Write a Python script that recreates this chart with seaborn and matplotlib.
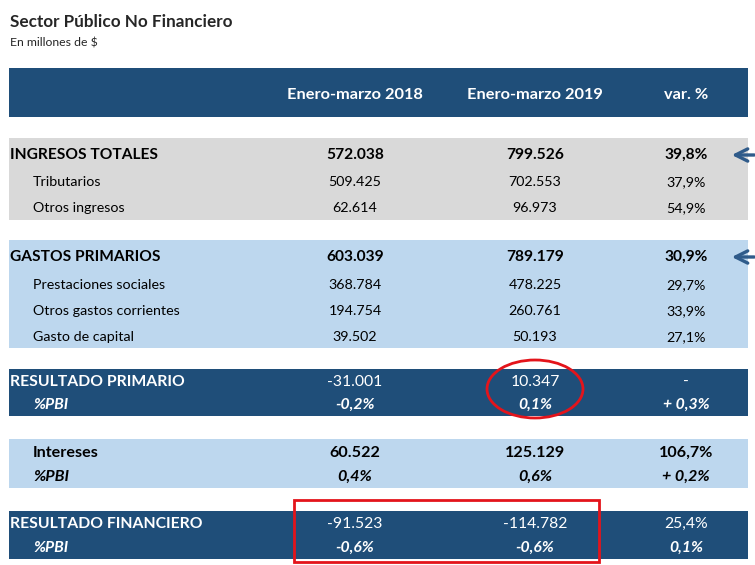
import matplotlib.pyplot as plt
import seaborn as sns
from matplotlib.patches import Rectangle, Ellipse

# table content
labels = ["INGRESOS TOTALES", "Tributarios", "Otros ingresos",
          "GASTOS PRIMARIOS", "Prestaciones sociales", "Otros gastos corrientes", "Gasto de capital",
          "RESULTADO PRIMARIO", "%PBI",
          "Intereses", "%PBI",
          "RESULTADO FINANCIERO", "%PBI"]
v2018 = ["572.038", "509.425", "62.614",
         "603.039", "368.784", "194.754", "39.502",
         "-31.001", "-0,2%",
         "60.522", "0,4%",
         "-91.523", "-0,6%"]
v2019 = ["799.526", "702.553", "96.973",
         "789.179", "478.225", "260.761", "50.193",
         "10.347", "0,1%",
         "125.129", "0,6%",
         "-114.782", "-0,6%"]
var_pct = ["39,8%", "37,9%", "54,9%",
           "30,9%", "29,7%", "33,9%", "27,1%",
           "-", "+ 0,3%",
           "106,7%", "+ 0,2%",
           "25,4%", "0,1%"]
headers = ["Enero-marzo 2018", "Enero-marzo 2019", "var. %"]

# layout (pixels, figure coordinates)
row_y = [155, 182, 208, 257, 285, 311, 337, 382, 405, 453, 477, 524, 548]
# style: (label x, weight, style, size, color, value weight)
styles = [
    (10, "bold", "normal", 11.2, "black", "bold"),
    (33, "normal", "normal", 10.3, "black", "normal"),
    (33, "normal", "normal", 10.3, "black", "normal"),
    (10, "bold", "normal", 11.2, "black", "bold"),
    (33, "normal", "normal", 10.3, "black", "normal"),
    (33, "normal", "normal", 10.3, "black", "normal"),
    (33, "normal", "normal", 10.3, "black", "normal"),
    (10, "bold", "normal", 11.3, "white", "normal"),
    (33, "bold", "italic", 11.3, "white", "bold"),
    (33, "bold", "normal", 11.6, "black", "bold"),
    (33, "bold", "italic", 11.6, "black", "bold"),
    (10, "bold", "normal", 11.3, "white", "normal"),
    (33, "bold", "italic", 11.3, "white", "bold"),
]
col_x = [355, 535, 686]
bands = [(68, 117, "#1f4e79"), (138, 220, "#d9d9d9"), (240, 348, "#bdd7ee"),
         (369, 416, "#1f4e79"), (439, 488, "#bdd7ee"), (511, 559, "#1f4e79")]

sns.set_theme(style="white")
plt.rcParams["font.family"] = ["Lato", "DejaVu Sans"]

fig = plt.figure(figsize=(7.55, 5.65), dpi=100)
ax = fig.add_axes([0, 0, 1, 1])
ax.set_xlim(0, 755)
ax.set_ylim(565, 0)
ax.axis("off")

for top, bottom, color in bands:
    ax.add_patch(Rectangle((9, top), 739, bottom - top, color=color, lw=0))

ax.text(10, 22, "Sector Público No Financiero", fontsize=12.3, fontweight="bold", va="center")
ax.text(10, 43, "En millones de $", fontsize=8.8, va="center")

for x, h in zip(col_x, headers):
    ax.text(x, 95, h, fontsize=11.8, fontweight="bold", color="white", ha="center", va="center")

for i, lab in enumerate(labels):
    lx, w, st, sz, c, vw = styles[i]
    y = row_y[i]
    ax.text(lx, y, lab, fontsize=sz, fontweight=w, fontstyle=st, color=c, va="center")
    for x, val in zip(col_x, [v2018[i], v2019[i], var_pct[i]]):
        ax.text(x, y, val, fontsize=sz, fontweight=vw, fontstyle=st, color=c,
                ha="center", va="center")

# arrows pointing at totals
for y in [row_y[0], row_y[3]]:
    ax.annotate("", xy=(729, y), xytext=(757, y),
                arrowprops=dict(arrowstyle="->", color="#2f5b8a", lw=2.4, mutation_scale=22))

# red highlight marks
ax.add_patch(Ellipse((535, 389), 96, 58, fill=False, edgecolor="#e3141b", lw=2))
ax.add_patch(Rectangle((294, 500), 305, 62, fill=False, edgecolor="#e3141b", lw=2))

fig.savefig("out.png", dpi=100)
